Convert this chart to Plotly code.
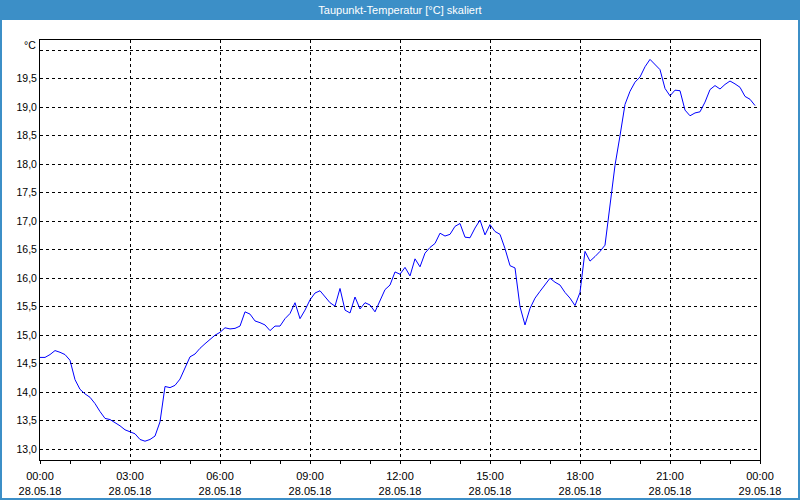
import pandas as pd
import plotly.graph_objects as go

# ---- data ----
start_time = "2018-05-28 00:00"
interval = "10min"
dew_point = [
    14.61, 14.61, 14.66, 14.73, 14.70, 14.66, 14.56, 14.22, 14.05, 13.97,
    13.91, 13.80, 13.66, 13.54, 13.52, 13.47, 13.41, 13.34, 13.30, 13.27,
    13.17, 13.14, 13.17, 13.23, 13.48, 14.10, 14.08, 14.12, 14.23, 14.43,
    14.62, 14.67, 14.77, 14.85, 14.92, 15.00, 15.05, 15.13, 15.11, 15.12,
    15.16, 15.41, 15.37, 15.25, 15.22, 15.18, 15.08, 15.16, 15.16, 15.29,
    15.38, 15.57, 15.29, 15.44, 15.62, 15.74, 15.78, 15.67, 15.57, 15.51,
    15.82, 15.44, 15.39, 15.67, 15.46, 15.57, 15.53, 15.41, 15.61, 15.80,
    15.88, 16.11, 16.07, 16.19, 16.04, 16.34, 16.20, 16.44, 16.54, 16.61,
    16.79, 16.74, 16.77, 16.91, 16.96, 16.72, 16.71, 16.88, 17.02, 16.76,
    16.94, 16.82, 16.77, 16.52, 16.22, 16.18, 15.50, 15.18, 15.47, 15.65,
    15.77, 15.88, 16.00, 15.93, 15.88, 15.75, 15.65, 15.52, 15.75, 16.47,
    16.30, 16.38, 16.47, 16.58, 17.30, 17.98, 18.50, 19.05, 19.28, 19.44,
    19.53, 19.71, 19.84, 19.75, 19.66, 19.33, 19.20, 19.30, 19.29, 18.95,
    18.85, 18.90, 18.92, 19.09, 19.31, 19.38, 19.32, 19.40, 19.46, 19.41,
    19.35, 19.19, 19.14, 19.03,
]
times = pd.date_range(start_time, periods=len(dew_point), freq=interval)

x_tickvals = pd.date_range("2018-05-28 00:00", "2018-05-29 00:00", freq="3h")
x_ticktext = [
    "00:00<br>28.05.18", "03:00<br>28.05.18", "06:00<br>28.05.18",
    "09:00<br>28.05.18", "12:00<br>28.05.18", "15:00<br>28.05.18",
    "18:00<br>28.05.18", "21:00<br>28.05.18", "00:00<br>29.05.18",
]
y_tickvals = [13.0, 13.5, 14.0, 14.5, 15.0, 15.5, 16.0, 16.5, 17.0, 17.5,
              18.0, 18.5, 19.0, 19.5, 20.0]
y_ticktext = ["13,0", "13,5", "14,0", "14,5", "15,0", "15,5", "16,0", "16,5",
              "17,0", "17,5", "18,0", "18,5", "19,0", "19,5", ""]
title_text = "Taupunkt-Temperatur [°C] skaliert"
unit_text = "°C"

BLUE = "#3c8fc7"
FONT = "Liberation Sans"

fig = go.Figure()
fig.add_trace(go.Scatter(
    x=times, y=dew_point, mode="lines",
    line=dict(color="#0000ff", width=1),
    hoverinfo="skip", showlegend=False,
))

fig.update_layout(
    width=800, height=500,
    margin=dict(l=40, r=40, t=40, b=40),
    paper_bgcolor="white", plot_bgcolor="white",
    font=dict(family=FONT, size=10, color="black"),
    title=dict(text=title_text, x=0.5, xanchor="center", y=1 - 10 / 500,
               yanchor="middle", yref="container",
               font=dict(family=FONT, size=11, color="white")),
    xaxis=dict(
        type="date",
        range=["2018-05-28 00:00", "2018-05-29 00:00"],
        tickvals=x_tickvals, ticktext=x_ticktext,
        showgrid=True, gridcolor="black", griddash="3px,3px", gridwidth=1,
        showline=True, linecolor="black", linewidth=1, mirror=True,
        ticks="outside", ticklen=3, tickcolor="black",
        ticklabelstandoff=3, automargin=False,
        minor=dict(dtick=3600000, ticks="outside", ticklen=3,
                   tickcolor="black", showgrid=False),
        zeroline=False, tickfont=dict(size=11),
    ),
    yaxis=dict(
        range=[12.81, 20.18],
        tickvals=y_tickvals, ticktext=y_ticktext,
        showgrid=True, gridcolor="black", griddash="3px,3px", gridwidth=1,
        showline=True, linecolor="black", linewidth=1, mirror=True,
        ticks="", zeroline=False, tickfont=dict(size=10.5),
        automargin=False,
    ),
)

# unit label at top of y axis
fig.add_annotation(text=unit_text, xref="paper", yref="paper",
                   x=0, y=(460 - 45) / 420, xanchor="right", yanchor="middle",
                   xshift=-2, showarrow=False, font=dict(size=10.5, color="black"))

# window frame: title bar and borders (paper coords relative to plot area)
def px_x(px):
    return (px - 40) / 720

def px_y(py):
    return (460 - py) / 420

frame = [
    (0, 0, 800, 20),      # title bar
    (0, 0, 2, 500),       # left border
    (798, 0, 800, 500),   # right border
    (0, 498, 800, 500),   # bottom border
]
for x0, y0, x1, y1 in frame:
    fig.add_shape(type="rect", xref="paper", yref="paper",
                  x0=px_x(x0), x1=px_x(x1), y0=px_y(y1), y1=px_y(y0),
                  fillcolor=BLUE, line=dict(width=0), layer="below")

fig.write_html("out.html")
